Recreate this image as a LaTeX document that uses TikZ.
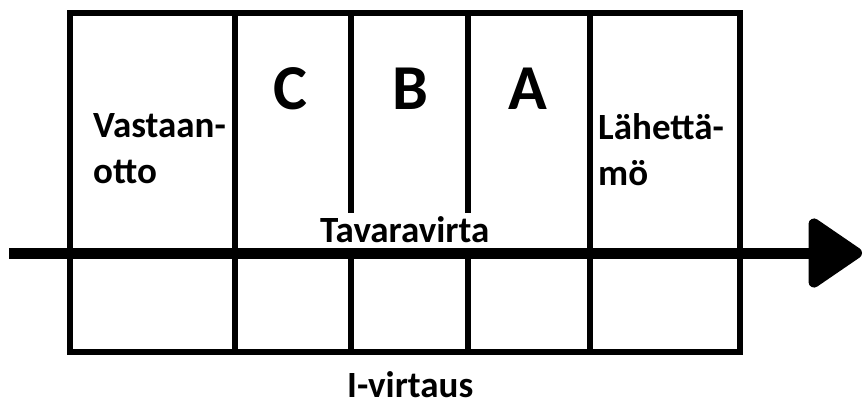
\documentclass[tikz,border=0pt]{standalone}
\usepackage{fontspec}
\setmainfont{Carlito}
\usetikzlibrary{arrows.meta}
\tikzset{
  grid/.style={line width=6pt, line cap=rect},
  flow/.style={line width=11pt, -{Triangle[length=58pt,width=76pt,round]}},
  lbl/.style={inner sep=0pt, anchor=base west, align=left, font=\bfseries\fontsize{37}{46}\selectfont},
  big/.style={inner sep=0pt, anchor=base, font=\bfseries\fontsize{64}{70}\selectfont}
}
\begin{document}
\begin{tikzpicture}[x=1pt,y=-1pt]
\useasboundingbox (0,0) rectangle (866,405);
% outer frame
\coordinate (tl) at (69.5,13);
\coordinate (br) at (740,352);
\draw[grid] (tl) rectangle (br);
% full dividers
\coordinate (d1t) at (235,13);   \coordinate (d1b) at (235,352);
\coordinate (d4t) at (589.5,13); \coordinate (d4b) at (589.5,352);
\draw[grid] (d1t) -- (d1b);
\draw[grid] (d4t) -- (d4b);
% partial dividers
\coordinate (d2t) at (351,13);  \coordinate (d2m) at (351,213);
\coordinate (d2l) at (351,253); \coordinate (d2b) at (351,352);
\coordinate (d3t) at (468,13);  \coordinate (d3m) at (468,213);
\coordinate (d3l) at (468,253); \coordinate (d3b) at (468,352);
\draw[line width=6pt] (d2t) -- (d2m);
\draw[line width=6pt] (d3t) -- (d3m);
\draw[line width=6pt] (d2l) -- (d2b);
\draw[line width=6pt] (d3l) -- (d3b);
% flow arrow
\coordinate (as) at (9,253);
\coordinate (ae) at (862,253);
\draw[flow] (as) -- (ae);
% labels
\node[lbl] (vast) at (93,183) {Vastaan-\\otto};
\node[lbl] (lah) at (598,185) {Lähettä-\\mö};
\node[big] (c) at (290,109) {C};
\node[big] (b) at (410,109) {B};
\node[big] (a) at (528,109) {A};
\node[lbl] (tav) at (320,242) {Tavaravirta};
\node[lbl, text depth=0pt] (iv) at (347,397) {I-virtaus};
\end{tikzpicture}
\end{document}
